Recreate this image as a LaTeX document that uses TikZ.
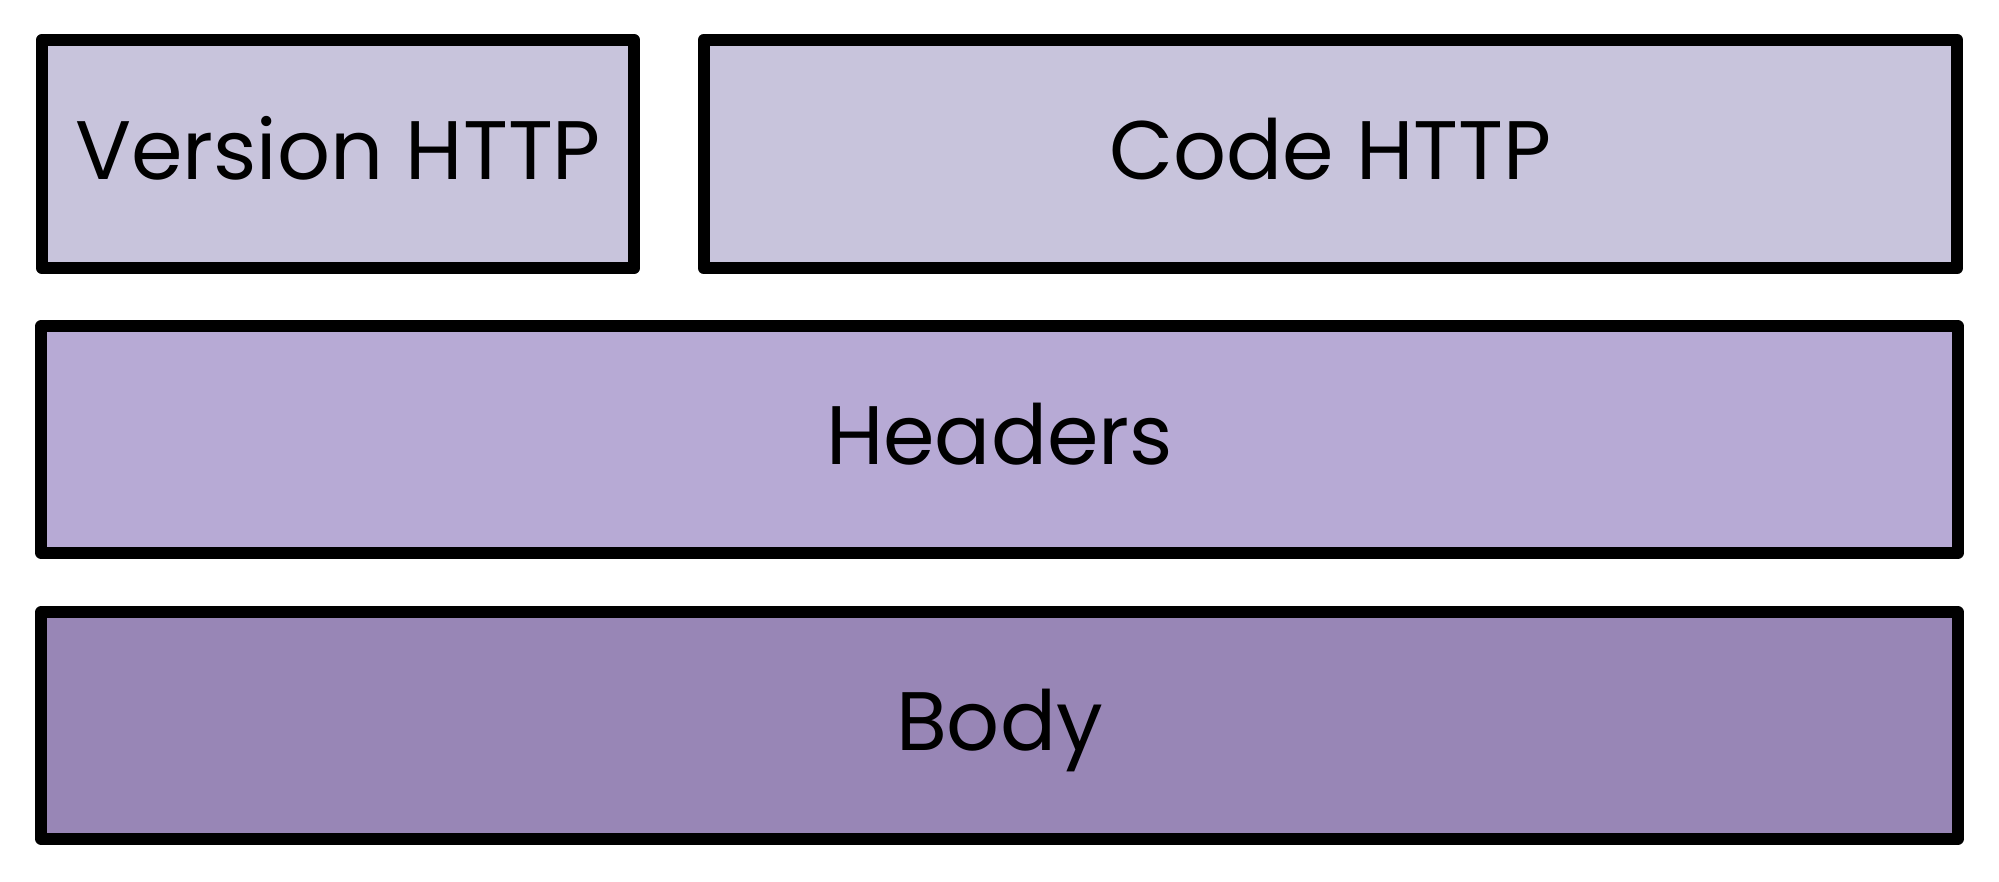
\documentclass[tikz,border=0pt]{standalone}
\usepackage{fontspec}
\setmainfont{Poppins}
\definecolor{topfill}{HTML}{C8C4DC}
\definecolor{headfill}{HTML}{B7AAD5}
\definecolor{bodyfill}{HTML}{9886B6}
\begin{document}
\begin{tikzpicture}[x=0.01cm,y=-0.01cm,
  field/.style={draw=black, line width=0.12cm, line join=round, rectangle,
    inner sep=0pt, outer sep=0pt, text height=0.50cm, text depth=0pt,
    font=\fontsize{23.6pt}{28pt}\selectfont}]
\useasboundingbox (0,0) rectangle (1999,881);
\node[field, fill=topfill, minimum width=5.92cm, minimum height=2.28cm] (version) at (338,154) {Version HTTP};
\node[field, fill=topfill, minimum width=12.53cm, minimum height=2.28cm] (code) at (1330.5,154) {Code HTTP};
\node[field, fill=headfill, minimum width=19.15cm, minimum height=2.27cm] (headers) at (999.5,439.5) {Headers};
\node[field, fill=bodyfill, minimum width=19.15cm, minimum height=2.27cm] (body) at (999.5,725.5) {Body};
\end{tikzpicture}
\end{document}
